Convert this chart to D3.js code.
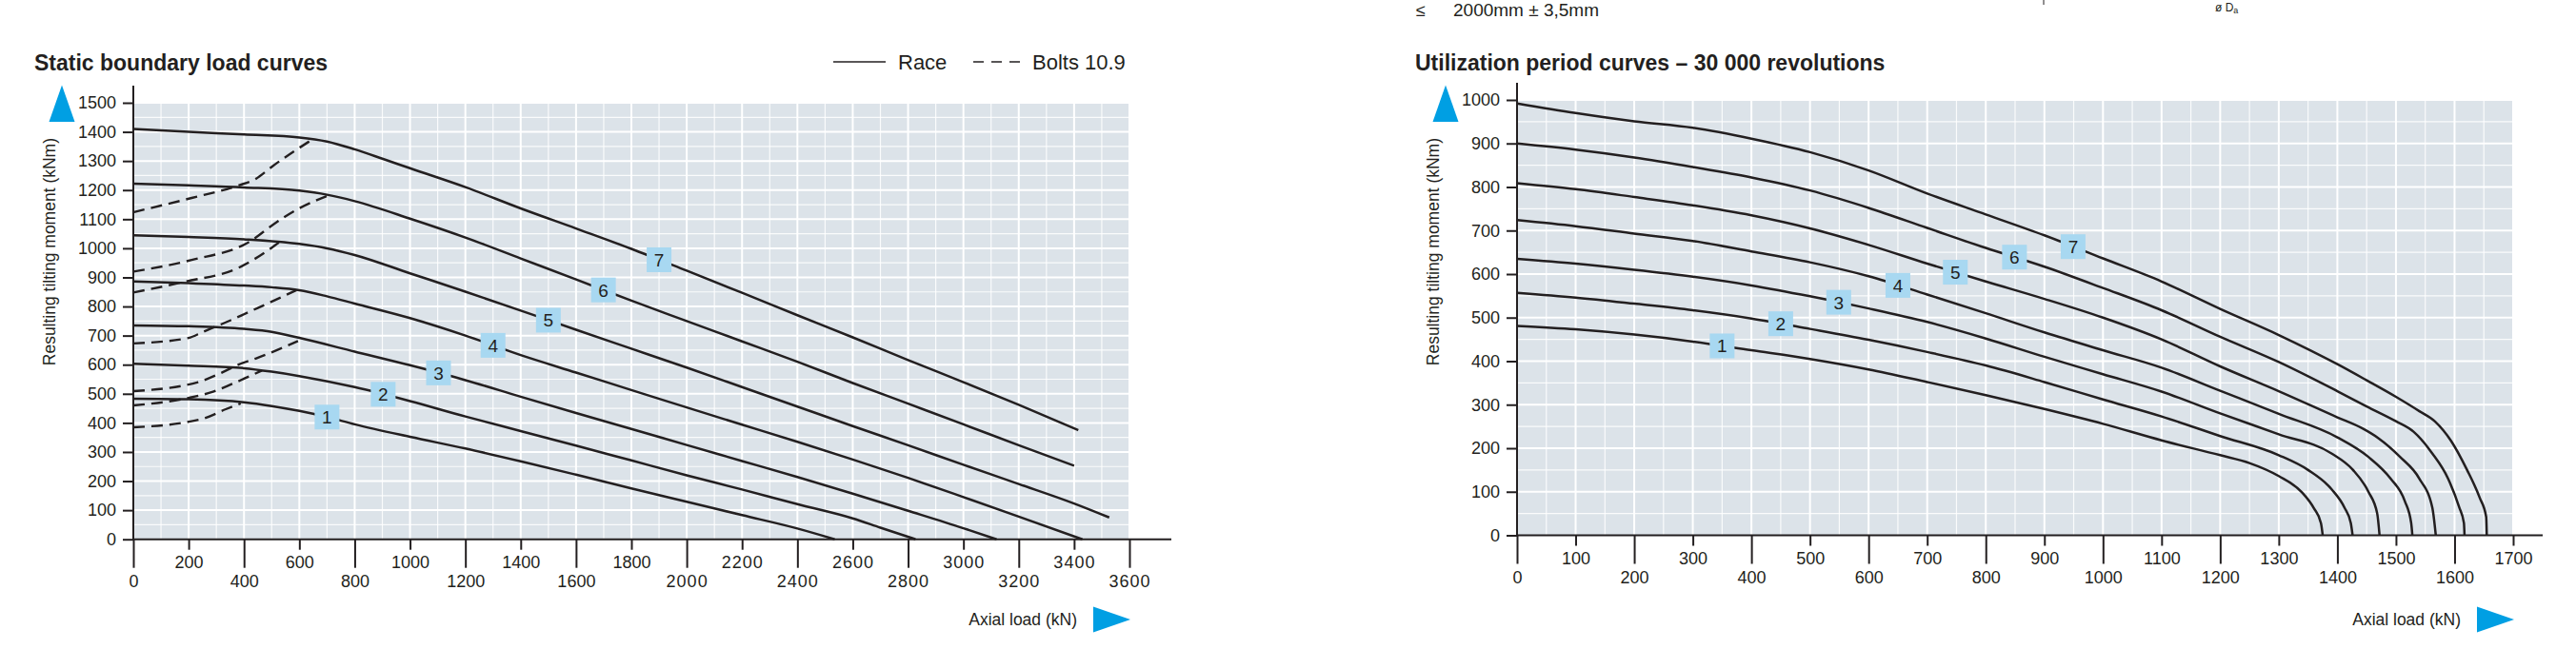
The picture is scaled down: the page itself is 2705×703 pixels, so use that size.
<!DOCTYPE html>
<html><head><meta charset="utf-8">
<script src="https://cdn.jsdelivr.net/npm/d3@7"></script>
<style>
html,body{margin:0;padding:0;background:#fff;}
svg{display:block;font-family:"Liberation Sans",Arial,sans-serif;}
</style></head>
<body>
<svg id="chart" width="2705" height="703"></svg>
<script>
// ---------- DATA: Static boundary load curves (Axial load kN, tilting moment kNm) ----------
const staticRace1 = [[0,483],[200,481],[400,471],[500,458],[600,441],[700,420],[800,395],[1000,352],[1200,312],[1400,268],[1600,222],[1800,175],[2000,129],[2200,83],[2400,37],[2535,0]];
const staticRace2 = [[0,603],[200,597],[400,588],[500,576],[600,561],[800,523],[1000,475],[1200,422],[1400,372],[1600,322],[1800,271],[2000,220],[2200,171],[2400,121],[2600,72],[2700,40],[2827,0]];
const staticRace3 = [[0,735],[200,732],[400,723],[500,713],[600,692],[800,645],[1000,598],[1200,547],[1400,490],[1600,434],[1800,379],[2000,324],[2200,269],[2400,214],[2600,157],[2800,98],[3000,38],[3120,0]];
const staticRace4 = [[0,886],[200,880],[400,872],[500,866],[600,856],[700,835],[800,810],[1000,760],[1200,700],[1400,633],[1600,573],[1800,513],[2000,453],[2200,394],[2400,335],[2600,274],[2800,211],[3000,145],[3200,78],[3430,0]];
const staticRace5 = [[0,1045],[200,1039],[400,1031],[600,1015],[700,1000],[800,977],[1000,914],[1200,851],[1400,786],[1600,720],[1800,655],[2000,590],[2200,523],[2400,456],[2600,389],[2800,323],[3000,256],[3200,190],[3400,123],[3527,75]];
const staticRace6 = [[0,1222],[200,1216],[400,1209],[600,1198],[700,1184],[800,1162],[1000,1102],[1200,1037],[1400,965],[1600,893],[1800,820],[2000,750],[2200,680],[2400,610],[2600,537],[2800,466],[3000,395],[3200,323],[3400,253]];
const staticRace7 = [[0,1410],[200,1400],[400,1391],[600,1381],[700,1367],[800,1340],[900,1308],[1000,1275],[1200,1210],[1400,1137],[1600,1068],[1800,998],[2000,923],[2200,847],[2400,770],[2600,694],[2800,616],[3000,540],[3200,462],[3415,375]];
const staticBolts1 = [[0,385],[195,403],[257,416],[334,447],[388,467]];
const staticBolts2 = [[0,460],[195,485],[288,507],[357,534],[465,580]];
const staticBolts3 = [[0,509],[234,540],[318,572],[380,600],[442,621],[595,681]];
const staticBolts4 = [[0,673],[200,692],[250,712],[350,752],[450,795],[590,856]];
const staticBolts5 = [[0,848],[180,884],[380,933],[503,1004],[526,1020]];
const staticBolts6 = [[0,920],[211,960],[426,1026],[503,1080],[595,1135],[703,1181]];
const staticBolts7 = [[0,1124],[211,1173],[380,1216],[442,1238],[503,1282],[642,1371]];
const staticLabelNames = ["1","2","3","4","5","6","7"];
const staticLabelLoads = [700,903,1103,1300,1500,1699,1900];
const staticXTicks = [0,200,400,600,800,1000,1200,1400,1600,1800,2000,2200,2400,2600,2800,3000,3200,3400,3600];
const staticYTicks = [0,100,200,300,400,500,600,700,800,900,1000,1100,1200,1300,1400,1500];

// ---------- DATA: Utilization period curves – 30 000 revolutions ----------
const lifeCurve1 = [[0,481],[100,473],[200,461],[300,445],[400,425],[500,405],[600,381],[700,352],[800,322],[900,290],[1000,256],[1100,218],[1200,184],[1250,166],[1300,136],[1340,98],[1360,62],[1372,28],[1375,0]];
const lifeCurve2 = [[0,557],[100,546],[200,532],[300,517],[400,498],[500,474],[600,449],[700,421],[800,390],[900,352],[1000,312],[1100,273],[1200,228],[1300,184],[1350,150],[1390,106],[1412,64],[1423,28],[1426,0]];
const lifeCurve3 = [[0,635],[100,624],[200,610],[300,594],[400,574],[500,549],[600,521],[700,490],[800,452],[900,410],[1000,370],[1100,330],[1200,280],[1300,232],[1390,188],[1426,151],[1453,100],[1468,50],[1472,0]];
const lifeCurve4 = [[0,724],[100,710],[200,693],[300,676],[400,652],[500,627],[600,595],[700,553],[800,510],[900,466],[1000,425],[1100,385],[1200,332],[1300,279],[1400,225],[1453,180],[1491,130],[1515,79],[1526,28],[1528,0]];
const lifeCurve5 = [[0,809],[100,795],[200,777],[300,758],[400,735],[500,705],[600,667],[700,624],[800,583],[900,543],[1000,500],[1100,450],[1200,388],[1300,331],[1400,271],[1442,246],[1470,223],[1507,180],[1540,130],[1562,64],[1568,0]];
const lifeCurve6 = [[0,900],[100,886],[200,868],[300,846],[400,822],[500,792],[600,752],[700,706],[800,660],[900,617],[1000,568],[1100,517],[1200,456],[1300,398],[1400,331],[1450,296],[1500,262],[1530,238],[1562,188],[1589,130],[1608,64],[1616,28],[1617,0]];
const lifeCurve7 = [[0,992],[100,970],[200,951],[300,936],[400,911],[500,880],[600,838],[700,785],[800,737],[900,689],[1000,636],[1100,583],[1200,520],[1300,460],[1400,393],[1450,356],[1500,318],[1540,285],[1567,261],[1594,217],[1621,151],[1643,86],[1654,42],[1655,0]];
const lifeLabelNames = ["1","2","3","4","5","6","7"];
const lifeLabelLoads = [350,450,549,650,748,849,949];
const lifeXTicks = [0,100,200,300,400,500,600,700,800,900,1000,1100,1200,1300,1400,1500,1600,1700];
const lifeYTicks = [0,100,200,300,400,500,600,700,800,900,1000];

const staticRace = [staticRace1,staticRace2,staticRace3,staticRace4,staticRace5,staticRace6,staticRace7];
const staticBolts = [staticBolts1,staticBolts2,staticBolts3,staticBolts4,staticBolts5,staticBolts6,staticBolts7];
const lifeCurves = [lifeCurve1,lifeCurve2,lifeCurve3,lifeCurve4,lifeCurve5,lifeCurve6,lifeCurve7];

// ---------- STYLE ----------
const INK = "#231f20";
const PLOT_BG = "#dce3e9";
const LABEL_BG = "#a8d8f1";
const BLUE = "#009fe3";

const svg = d3.select("#chart");

function interp(pts, x){
  for (let i=0;i<pts.length-1;i++){
    const a=pts[i], b=pts[i+1];
    if (x>=a[0] && x<=b[0]) return a[1]+(b[1]-a[1])*(x-a[0])/(b[0]-a[0]);
  }
  return pts[pts.length-1][1];
}

function drawChart(cfg){
  const {x,y,xMinorStep,xMajorStep,yMinorStep,yMajorStep,xMax,yMax,axisExtend} = cfg;
  const g = svg.append("g");
  g.append("rect").attr("x",x(0)).attr("y",y(yMax)).attr("width",x(xMax)-x(0)).attr("height",y(0)-y(yMax)).attr("fill",PLOT_BG);
  const xs = d3.range(xMinorStep, xMax+1e-6, xMinorStep);
  g.selectAll(".vg").data(xs).join("line")
    .attr("x1",d=>x(d)).attr("x2",d=>x(d)).attr("y1",y(yMax)).attr("y2",y(0))
    .attr("stroke","#fff").attr("stroke-width",d=>Math.abs(d%xMajorStep)<1e-6?2:1.2)
    .attr("stroke-opacity",d=>Math.abs(d%xMajorStep)<1e-6?1:0.85);
  const ys = d3.range(yMinorStep, yMax+1e-6, yMinorStep);
  g.selectAll(".hg").data(ys).join("line")
    .attr("x1",x(0)).attr("x2",x(xMax)).attr("y1",d=>y(d)).attr("y2",d=>y(d))
    .attr("stroke","#fff").attr("stroke-width",d=>Math.abs(d%yMajorStep)<1e-6?2:1.2)
    .attr("stroke-opacity",d=>Math.abs(d%yMajorStep)<1e-6?1:0.85);

  const line = d3.line().x(d=>x(d[0])).y(d=>y(d[1])).curve(d3.curveMonotoneX);
  if (cfg.dashed){
    g.selectAll(".dash").data(cfg.dashed).join("path")
      .attr("d",line).attr("fill","none").attr("stroke",INK)
      .attr("stroke-width",2.4).attr("stroke-dasharray","12,7");
  }
  g.selectAll(".curve").data(cfg.curves).join("path")
    .attr("d",line).attr("fill","none").attr("stroke",INK).attr("stroke-width",2.5)
    .attr("stroke-linejoin","round");

  const lab = g.selectAll(".lab").data(cfg.labelLoads).join("g")
    .attr("transform",(d,i)=>`translate(${x(d)},${y(interp(cfg.curves[i],d))})`);
  lab.append("rect").attr("x",-13).attr("y",-13).attr("width",26).attr("height",26).attr("fill",LABEL_BG);
  lab.append("text").attr("text-anchor","middle").attr("y",7).attr("font-size",19).attr("fill",INK)
    .text((d,i)=>cfg.labelNames[i]);

  const ya = g.append("g").attr("transform",`translate(${x(0)},0)`)
    .call(d3.axisLeft(y).tickValues(cfg.yTicks).tickSize(11).tickPadding(7).tickFormat(d3.format("d")));
  ya.select(".domain").remove();
  ya.selectAll(".tick line").attr("stroke",INK).attr("stroke-width",2);
  ya.selectAll(".tick text").attr("font-size",18).attr("fill",INK).attr("font-family","Liberation Sans, Arial, sans-serif");
  g.append("line").attr("x1",x(0)).attr("x2",x(0)).attr("y1",cfg.yAxisTop).attr("y2",y(0)).attr("stroke",INK).attr("stroke-width",2);

  const longTick = d => Math.abs(d % (2*cfg.xLabelStep)) < 1e-6;
  const xa = g.append("g").attr("transform",`translate(0,${y(0)})`)
    .call(d3.axisBottom(x).tickValues(cfg.xTicks).tickSize(0).tickFormat(d3.format("d")));
  xa.select(".domain").remove();
  xa.selectAll(".tick line").attr("y2",d=>longTick(d)?30:11).attr("stroke",INK).attr("stroke-width",2);
  xa.selectAll(".tick text").attr("dy",null).attr("y",d=>longTick(d)?50:30)
    .attr("font-size",18).attr("fill",INK).attr("font-family","Liberation Sans, Arial, sans-serif")
    .attr("letter-spacing",d=>cfg.spaced && d>=2000 ? 1 : 0);
  g.append("line").attr("x1",x(0)-1).attr("x2",x(xMax)+axisExtend).attr("y1",y(0)).attr("y2",y(0)).attr("stroke",INK).attr("stroke-width",2);

  g.append("text").attr("x",cfg.titleX).attr("y",74).attr("font-size",23).attr("font-weight","bold").attr("fill",INK).text(cfg.title);
  g.append("text").attr("transform",`translate(${x(0)-82},145) rotate(-90)`).attr("text-anchor","end")
    .attr("font-size",17.5).attr("fill",INK).text("Resulting tilting moment (kNm)");
  const ax = x(0)-88.5;
  g.append("path").attr("d",`M${ax},128 L${ax+13.5},89.5 L${ax+27},128 Z`).attr("fill",BLUE);
  const tip = x(xMax)+1;
  g.append("path").attr("d",`M${tip-39},637.5 L${tip},651 L${tip-39},664.5 Z`).attr("fill",BLUE);
  g.append("text").attr("x",tip-56).attr("y",657).attr("text-anchor","end").attr("font-size",17.5).attr("fill",INK).text("Axial load (kN)");
  return g;
}

// Left chart
const lx = d3.scaleLinear().domain([0,3600]).range([140,1186]);
const ly = d3.scaleLinear().domain([0,1500]).range([566.7,108]);
drawChart({
  x:lx, y:ly, xMax:3600, yMax:1500, xMinorStep:100, xMajorStep:200, yMinorStep:50, yMajorStep:100,
  axisExtend:44, curves:staticRace, dashed:staticBolts, labelLoads:staticLabelLoads, labelNames:staticLabelNames,
  xTicks:staticXTicks, yTicks:staticYTicks, xLabelStep:200, yAxisTop:90, titleX:36, spaced:true,
  title:"Static boundary load curves"
});
const lg = svg.append("g");
lg.append("line").attr("x1",875).attr("x2",930).attr("y1",65).attr("y2",65).attr("stroke",INK).attr("stroke-width",1.6);
lg.append("text").attr("x",943).attr("y",73).attr("font-size",22).attr("fill",INK).text("Race");
lg.append("line").attr("x1",1022).attr("x2",1071).attr("y1",65).attr("y2",65).attr("stroke",INK).attr("stroke-width",1.6).attr("stroke-dasharray","11,8");
lg.append("text").attr("x",1084).attr("y",73).attr("font-size",22).attr("fill",INK).text("Bolts 10.9");

// Right chart
const rx = d3.scaleLinear().domain([0,1700]).range([1593,2639]);
const ry = d3.scaleLinear().domain([0,1000]).range([562.5,105]);
drawChart({
  x:rx, y:ry, xMax:1700, yMax:1000, xMinorStep:50, xMajorStep:100, yMinorStep:50, yMajorStep:100,
  axisExtend:31, curves:lifeCurves, labelLoads:lifeLabelLoads, labelNames:lifeLabelNames,
  xTicks:lifeXTicks, yTicks:lifeYTicks, xLabelStep:100, yAxisTop:87, titleX:1486, spaced:false,
  title:"Utilization period curves \u2013 30 000 revolutions"
});

// fragments at the top edge (kept fully inside the page)
svg.append("text").attr("x",1487).attr("y",17).attr("font-size",18).attr("fill",INK).text("\u2264");
svg.append("text").attr("x",1526).attr("y",17).attr("font-size",19).attr("fill",INK).text("2000mm \u00b1 3,5mm");
svg.append("line").attr("x1",2146).attr("x2",2146).attr("y1",0).attr("y2",5).attr("stroke",INK).attr("stroke-width",1);
const da = svg.append("text").attr("x",2326).attr("y",12).attr("font-size",12).attr("fill",INK);
da.append("tspan").text("\u00f8 D");
da.append("tspan").attr("dy",2).attr("font-size",9).text("a");
</script>
</body></html>
